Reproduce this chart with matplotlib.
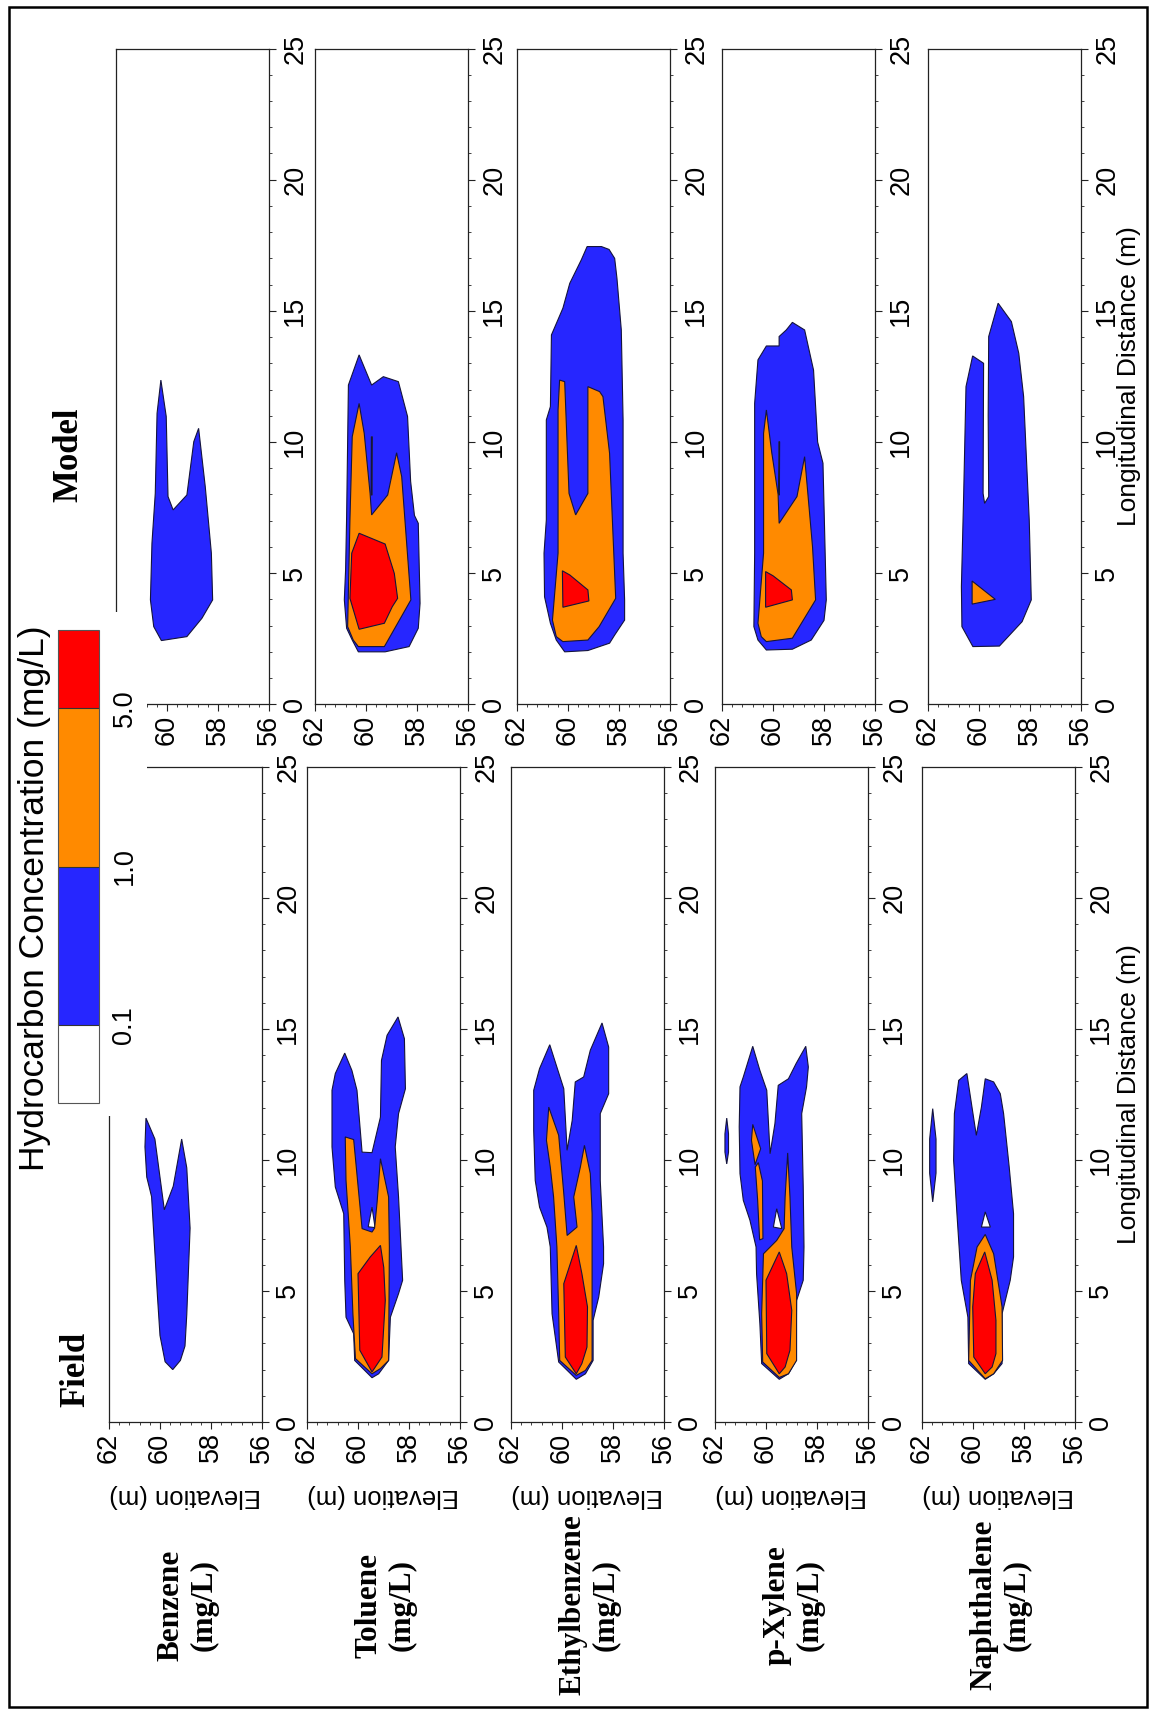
import matplotlib
matplotlib.use("Agg")
import matplotlib.pyplot as plt
from matplotlib.cm import ScalarMappable
from matplotlib.colors import BoundaryNorm, ListedColormap
from matplotlib.patches import Rectangle

plt.rcParams['font.family'] = ['Liberation Sans', 'DejaVu Sans']

SPECIES = ["Benzene", "Toluene", "Ethylbenzene", "p-Xylene", "Naphthalene"]
LEVELS = [0.1, 1.0, 5.0]
LEVEL_LABELS = ["0.1", "1.0", "5.0"]
ELEV_TICKS = [62, 60, 58, 56]
DIST_TICKS = [0, 5, 10, 15, 20, 25]

BLUE, ORANGE, RED = "#2626ff", "#ff8a00", "#ff0000"
EDGE = "#14143c"

# iso-concentration outlines, (distance m, elevation m)
# c01 = 0.1 mg/L, c1 = 1.0 mg/L, c5 = 5.0 mg/L, holes = pockets below 0.1 mg/L

# ---- field ----
field_benzene_c01 = [[(2.0, 59.50), (2.3, 59.80), (3.3, 60.00), (4.8, 60.10), (8.6, 60.33), (9.35, 60.52),
                      (10.5, 60.59), (11.6, 60.55), (10.8, 60.20), (8.1, 59.83), (9.0, 59.48), (10.8, 59.15),
                      (9.7, 58.95), (7.4, 58.82), (4.1, 58.95), (2.9, 59.02), (2.35, 59.20)]]
field_benzene_c1 = []
field_benzene_c5 = []
field_benzene_holes = []

field_toluene_c01 = [[(1.69, 59.45), (2.35, 60.13), (3.37, 60.17), (4.0, 60.47), (5.4, 60.52), (7.95, 60.56),
                      (8.97, 60.89), (10.5, 61.02), (12.66, 61.02), (13.3, 60.89), (14.08, 60.52), (13.42, 60.24),
                      (12.66, 60.04), (10.3, 59.84), (10.28, 59.45), (11.64, 59.12), (13.8, 59.08), (14.76, 58.86),
                      (15.46, 58.43), (14.63, 58.18), (12.72, 58.14), (11.77, 58.41), (10.5, 58.54), (8.59, 58.41),
                      (5.41, 58.25), (4.9, 58.41), (4.0, 58.73), (2.35, 58.80), (1.84, 59.19)]]
field_toluene_c1 = [[(1.84, 59.45), (2.42, 60.10), (4.13, 60.20), (6.68, 60.30), (9.22, 60.47), (10.88, 60.50),
                     (10.78, 60.17), (7.38, 59.84), (7.25, 59.45), (7.4, 59.35), (8.4, 59.25), (10.05, 59.12),
                     (8.59, 58.80), (6.68, 58.77), (2.35, 58.80), (2.04, 59.12)]]
field_toluene_c5 = [[(1.91, 59.45), (2.74, 59.93), (5.66, 60.00), (6.3, 59.52), (6.74, 59.12), (5.9, 58.99),
                     (4.64, 58.93), (2.48, 59.06)]]
field_toluene_holes = [[(7.45, 59.60), (8.2, 59.45), (7.42, 59.33)]]

field_ethyl_c01 = [[(1.63, 59.44), (2.29, 60.13), (4.13, 60.39), (6.68, 60.46), (7.44, 60.59), (8.2, 60.88),
                    (9.22, 61.05), (11.13, 61.11), (12.66, 61.11), (13.49, 60.88), (14.4, 60.48), (12.72, 59.93),
                    (10.37, 59.80), (11.51, 59.60), (12.98, 59.48), (13.17, 59.15), (14.19, 58.89), (15.23, 58.43),
                    (14.31, 58.17), (12.53, 58.17), (11.77, 58.50), (9.22, 58.50), (6.68, 58.37), (6.04, 58.37),
                    (4.77, 58.56), (3.88, 58.78), (2.35, 58.78), (1.84, 59.08)]]
field_ethyl_c1 = [[(1.78, 59.44), (2.35, 60.09), (4.13, 60.13), (6.68, 60.20), (8.59, 60.33), (9.73, 60.46),
                   (10.75, 60.61), (12.02, 60.52), (10.94, 60.13), (8.72, 59.93), (7.12, 59.80), (7.44, 59.41),
                   (8.59, 59.54), (9.73, 59.28), (10.56, 59.12), (9.48, 58.89), (7.95, 58.82), (2.35, 58.82),
                   (1.97, 59.08)]]
field_ethyl_c5 = [[(1.84, 59.44), (2.48, 59.87), (5.28, 59.93), (6.74, 59.44), (5.66, 59.22), (4.39, 59.00),
                   (2.86, 59.02), (2.23, 59.22)]]
field_ethyl_holes = []

field_xylene_c01 = [[(1.63, 59.48), (2.23, 60.17), (3.75, 60.24), (5.66, 60.37), (6.68, 60.39), (7.7, 60.63),
                     (8.46, 60.89), (9.48, 61.02), (11.26, 61.05), (12.79, 61.02), (13.17, 60.89), (14.34, 60.52),
                     (13.42, 60.24), (12.66, 59.97), (10.24, 59.84), (11.39, 59.65), (12.85, 59.52), (13.1, 59.12),
                     (13.68, 58.82), (14.34, 58.44), (13.55, 58.34), (12.79, 58.41), (11.77, 58.60), (8.97, 58.54),
                     (6.68, 58.51), (5.41, 58.54), (4.64, 58.80), (2.35, 58.82), (1.84, 59.12)],
                    [(9.85, 61.54), (10.3, 61.61), (11.0, 61.61), (11.6, 61.54), (11.0, 61.47), (10.3, 61.47)]]
field_xylene_c1 = [[(1.7, 59.48), (2.29, 60.13), (4.13, 60.17), (6.42, 60.10), (6.93, 59.58), (7.38, 59.29),
                    (8.59, 59.25), (10.27, 59.15), (8.59, 59.06), (6.68, 58.99), (4.9, 58.80), (2.35, 58.80),
                    (1.84, 59.12)],
                   [(11.36, 60.52), (10.43, 60.21), (9.82, 60.43), (10.75, 60.57)],
                   [(9.73, 60.42), (9.9, 60.30), (9.2, 60.14), (7.0, 60.12), (6.95, 60.25), (8.5, 60.33)]]
field_xylene_c5 = [[(1.84, 59.48), (2.61, 59.97), (5.41, 60.00), (6.49, 59.48), (5.66, 59.19), (4.26, 58.99),
                    (2.74, 59.06), (2.1, 59.25)]]
field_xylene_holes = [[(8.14, 59.58), (7.44, 59.71), (7.38, 59.38)]]

field_naph_c01 = [[(1.63, 59.52), (2.23, 60.17), (4.0, 60.20), (5.41, 60.46), (7.95, 60.63), (9.99, 60.76),
                   (11.77, 60.73), (13.04, 60.56), (13.3, 60.24), (12.02, 60.04), (10.94, 59.87), (12.02, 59.67),
                   (13.1, 59.52), (12.98, 59.19), (12.53, 58.93), (11.77, 58.80), (9.73, 58.58), (7.95, 58.41),
                   (6.3, 58.41), (5.41, 58.54), (4.13, 58.86), (2.23, 58.86), (1.84, 59.19)],
                  [(8.4, 61.58), (9.5, 61.70), (10.8, 61.70), (11.96, 61.58), (10.8, 61.45), (9.5, 61.45)]]
field_naph_c1 = [[(1.65, 59.52), (2.35, 60.17), (5.41, 60.10), (6.68, 59.84), (7.16, 59.52), (6.42, 59.19),
                  (4.39, 58.86), (2.35, 58.84), (1.84, 59.19)]]
field_naph_c5 = [[(1.84, 59.52), (2.48, 59.97), (4.39, 60.01), (5.66, 59.91), (6.49, 59.54), (5.41, 59.25),
                  (3.88, 59.10), (2.61, 59.10), (2.1, 59.25)]]
field_naph_holes = [[(8.02, 59.52), (7.44, 59.67), (7.44, 59.32)]]

# ---- model ----
model_benzene_c01 = [[(2.43, 60.22), (2.96, 60.52), (3.98, 60.65), (6.14, 60.59), (8.04, 60.46), (11.09, 60.39),
                      (12.36, 60.24), (10.97, 60.03), (7.92, 59.96), (7.41, 59.76), (7.98, 59.22), (10.01, 58.95),
                      (10.52, 58.76), (8.3, 58.50), (5.76, 58.26), (3.98, 58.21), (3.28, 58.63), (2.58, 59.22)]]
model_benzene_c1 = []
model_benzene_c5 = []
model_benzene_holes = []

model_toluene_c01 = [[(2.0, 60.30), (2.0, 59.25), (2.2, 58.31), (2.9, 57.95), (3.85, 57.88), (6.9, 57.95),
                      (7.2, 58.10), (8.5, 58.25), (10.97, 58.37), (12.3, 58.73), (12.49, 59.32), (12.17, 59.78),
                      (13.32, 60.27), (12.17, 60.69), (7.15, 60.76), (5.12, 60.80), (3.98, 60.85), (2.9, 60.76),
                      (2.45, 60.54)]]
model_toluene_c1 = [[(2.2, 60.30), (2.2, 59.28), (3.02, 58.80), (3.98, 58.24), (8.68, 58.60), (9.59, 58.80),
                     (7.98, 59.15), (7.22, 59.78), (8.04, 59.84), (10.33, 60.07), (11.47, 60.27), (10.2, 60.54),
                     (7.03, 60.63), (2.96, 60.72), (2.45, 60.50)]]
model_toluene_c5 = [[(2.86, 60.27), (3.09, 59.28), (3.72, 58.97), (4.04, 58.76), (4.99, 58.89), (6.11, 59.25),
                     (6.52, 60.27), (5.76, 60.56), (4.04, 60.63)]]
model_toluene_holes = [[(7.98, 59.80), (10.2, 59.79), (10.2, 59.75), (7.98, 59.76)]]

model_ethyl_c01 = [[(2.0, 60.13), (2.05, 59.22), (2.33, 58.37), (2.64, 58.17), (3.21, 57.78), (3.98, 57.78),
                    (5.76, 57.84), (10.84, 57.84), (14.27, 57.91), (16.24, 58.08), (17.0, 58.17), (17.34, 58.39),
                    (17.45, 58.69), (17.45, 59.25), (16.94, 59.48), (16.05, 59.93), (15.1, 60.20), (14.08, 60.65),
                    (11.35, 60.69), (10.84, 60.85), (7.03, 60.85), (5.76, 60.94), (4.1, 60.92), (3.09, 60.69),
                    (2.45, 60.46)]]
model_ethyl_c1 = [[(2.39, 60.20), (2.45, 59.22), (2.96, 58.78), (4.04, 58.13), (9.57, 58.37), (11.73, 58.63),
                   (11.92, 58.76), (12.11, 59.22), (8.04, 59.22), (7.22, 59.70), (8.04, 59.96), (12.3, 60.13),
                   (12.36, 60.33), (11.22, 60.39), (5.76, 60.39), (3.21, 60.61), (2.58, 60.46)]]
model_ethyl_c5 = [[(5.09, 60.22), (4.93, 59.93), (4.36, 59.22), (3.94, 59.18), (3.70, 60.20)]]
model_ethyl_holes = []

model_xylene_c01 = [[(2.07, 60.26), (2.1, 59.24), (2.45, 58.50), (3.2, 58.00), (3.98, 57.91), (9.19, 58.04),
                     (10.0, 58.25), (12.74, 58.41), (14.27, 58.76), (14.56, 59.24), (14.27, 59.48), (14.02, 59.76),
                     (13.66, 59.76), (13.66, 60.26), (13.13, 60.59), (11.47, 60.72), (5.76, 60.72), (2.96, 60.75),
                     (2.45, 60.59)]]
model_xylene_c1 = [[(2.39, 60.26), (2.52, 59.24), (3.98, 58.33), (6.0, 58.45), (9.44, 58.76), (7.92, 59.06),
                    (6.9, 59.76), (8.0, 59.80), (9.6, 60.05), (11.22, 60.26), (10.33, 60.37), (5.76, 60.37),
                    (3.09, 60.59), (2.58, 60.46)]]
model_xylene_c5 = [[(5.06, 60.29), (4.9, 60.00), (4.36, 59.28), (3.98, 59.24), (3.70, 60.29)]]
model_xylene_holes = [[(7.98, 59.78), (10.01, 59.77), (10.01, 59.74), (7.98, 59.75)]]

model_naph_c01 = [[(2.2, 60.24), (2.22, 59.20), (3.15, 58.31), (3.98, 57.95), (7.03, 58.03), (11.73, 58.25),
                   (13.38, 58.44), (14.59, 58.73), (15.29, 59.25), (14.02, 59.62), (11.0, 59.64), (7.92, 59.62),
                   (7.66, 59.78), (8.04, 59.84), (13.0, 59.82), (13.28, 60.25), (12.11, 60.51), (8.04, 60.60),
                   (4.49, 60.69), (2.96, 60.67)]]
model_naph_c1 = [[(4.7, 60.27), (4.0, 59.36), (3.82, 60.27)]]
model_naph_c5 = []
model_naph_holes = []

FIELD = [
    (field_benzene_c01, field_benzene_c1, field_benzene_c5, field_benzene_holes),
    (field_toluene_c01, field_toluene_c1, field_toluene_c5, field_toluene_holes),
    (field_ethyl_c01, field_ethyl_c1, field_ethyl_c5, field_ethyl_holes),
    (field_xylene_c01, field_xylene_c1, field_xylene_c5, field_xylene_holes),
    (field_naph_c01, field_naph_c1, field_naph_c5, field_naph_holes),
]
MODEL = [
    (model_benzene_c01, model_benzene_c1, model_benzene_c5, model_benzene_holes),
    (model_toluene_c01, model_toluene_c1, model_toluene_c5, model_toluene_holes),
    (model_ethyl_c01, model_ethyl_c1, model_ethyl_c5, model_ethyl_holes),
    (model_xylene_c01, model_xylene_c1, model_xylene_c5, model_xylene_holes),
    (model_naph_c01, model_naph_c1, model_naph_c5, model_naph_holes),
]

# ---- layout (pixels of the 1151 x 1713 page; the page is the landscape figure turned a quarter) ----
W, H = 1151, 1713
PW = 153
FIELD_LEFT = [109, 307, 511, 715, 922]
MODEL_LEFT = [116, 315, 517, 722, 928]
FIELD_TOP, FIELD_BOT = 767, 1422
MODEL_TOP, MODEL_BOT = 48.5, 704.3
TICK_SIZE = 19.5

fig = plt.figure(figsize=(W / 100, H / 100), dpi=100)


def fx(px):
    return px / W


def fy(py):
    return 1 - py / H


def fill(ax, poly, color):
    d, e = zip(*poly)
    ax.fill(e, d, facecolor=color, edgecolor=EDGE, linewidth=0.8, zorder=2)


def panel(left, top, bot, data):
    ax = fig.add_axes([fx(left), fy(bot), PW / W, (bot - top) / H])
    c01, c1, c5, holes = data
    for p in c01:
        fill(ax, p, BLUE)
    for p in holes:
        fill(ax, p, "white")
    for p in c1:
        fill(ax, p, ORANGE)
    for p in c5:
        fill(ax, p, RED)

    ax.set_xlim(62, 56)
    ax.set_ylim(0, 25)
    ax.set_xticks(ELEV_TICKS)
    ax.set_xticks([56 + 0.4 * i for i in range(16)], minor=True)
    ax.set_yticks(DIST_TICKS)
    ax.set_yticks(range(0, 26), minor=True)
    ax.yaxis.tick_right()
    ax.tick_params(which="major", length=5, width=0.8, labelsize=TICK_SIZE, direction="out", color="#222")
    ax.tick_params(which="minor", length=2.5, width=0.6, direction="out", color="#222")
    ax.tick_params(axis="x", pad=2.5, labelrotation=90)
    ax.tick_params(axis="y", pad=4.5, labelrotation=90)
    for lbl in ax.get_yticklabels():
        lbl.set_va("center")
    for s in ax.spines.values():
        s.set_linewidth(0.9)
        s.set_color("#222")
    return ax


for i, name in enumerate(SPECIES):
    axf = panel(FIELD_LEFT[i], FIELD_TOP, FIELD_BOT, FIELD[i])
    axm = panel(MODEL_LEFT[i], MODEL_TOP, MODEL_BOT, MODEL[i])
    if i == 0:
        # the 62 label of this panel sits under the legend
        axm.get_xticklabels()[0].set_visible(False)

    axf.set_xlabel("Elevation (m)", fontsize=18.5, rotation=180)
    axf.xaxis.set_label_coords(0.5, (FIELD_BOT - 1496) / (FIELD_BOT - FIELD_TOP))
    axf.xaxis.label.set_va("center")

    fig.text(fx(FIELD_LEFT[i] + PW / 2 + 2), fy(1605), f"{name}\n(mg/L)", rotation=90,
             ha="center", va="center", ma="center", fontsize=22.5, fontweight="bold",
             family="Liberation Serif", linespacing=1.15)

    if i == len(SPECIES) - 1:
        for ax, left in ((axf, FIELD_LEFT[i]), (axm, MODEL_LEFT[i])):
            ax.yaxis.set_label_position("right")
            ax.set_ylabel("Longitudinal Distance (m)", fontsize=19, rotation=90)
            ax.yaxis.set_label_coords((1129 - left) / PW, 0.5)
            ax.yaxis.label.set_va("center")
            ax.yaxis.label.set_ha("center")

# white backing behind the legend, covering the panel corners like the original
fig.patches.append(Rectangle((fx(14), fy(1116)), fx(147) - fx(14), fy(612) - fy(1116),
                             transform=fig.transFigure, facecolor="white", edgecolor="none", zorder=1))

cmap = ListedColormap([BLUE, ORANGE])
cmap.set_under("white")
cmap.set_over(RED)
norm = BoundaryNorm(LEVELS, cmap.N)
cax = fig.add_axes([fx(58), fy(1103), 41 / W, (1103 - 630) / H])
cax.set_zorder(2)
cb = fig.colorbar(ScalarMappable(norm=norm, cmap=cmap), cax=cax, orientation="vertical",
                  extend="both", extendrect=True, extendfrac=0.247, ticks=LEVELS,
                  spacing="uniform", drawedges=True)
cb.set_ticklabels(LEVEL_LABELS)
cb.outline.set_linewidth(0.8)
cb.outline.set_edgecolor("#555")
cb.dividers.set_color("#333")
cb.dividers.set_linewidth(0.8)
cax.tick_params(length=0, labelsize=TICK_SIZE, labelrotation=90, pad=9)
for lbl in cax.get_yticklabels():
    lbl.set_va("center")

fig.text(fx(35), fy(898), "Hydrocarbon Concentration (mg/L)", rotation=90, ha="center", va="center",
         fontsize=25.5, zorder=3)
fig.text(fx(76), fy(1369), "Field", rotation=90, ha="center", va="center", fontsize=25,
         fontweight="bold", family="Liberation Serif", zorder=3)
fig.text(fx(69), fy(455), "Model", rotation=90, ha="center", va="center", fontsize=25,
         fontweight="bold", family="Liberation Serif", zorder=3)

fig.patches.append(Rectangle((fx(9), fy(1707)), fx(1147) - fx(9), fy(7) - fy(1707),
                             transform=fig.transFigure, fill=False, edgecolor="black",
                             linewidth=1.8, zorder=5))

fig.savefig("out.png", dpi=100)
